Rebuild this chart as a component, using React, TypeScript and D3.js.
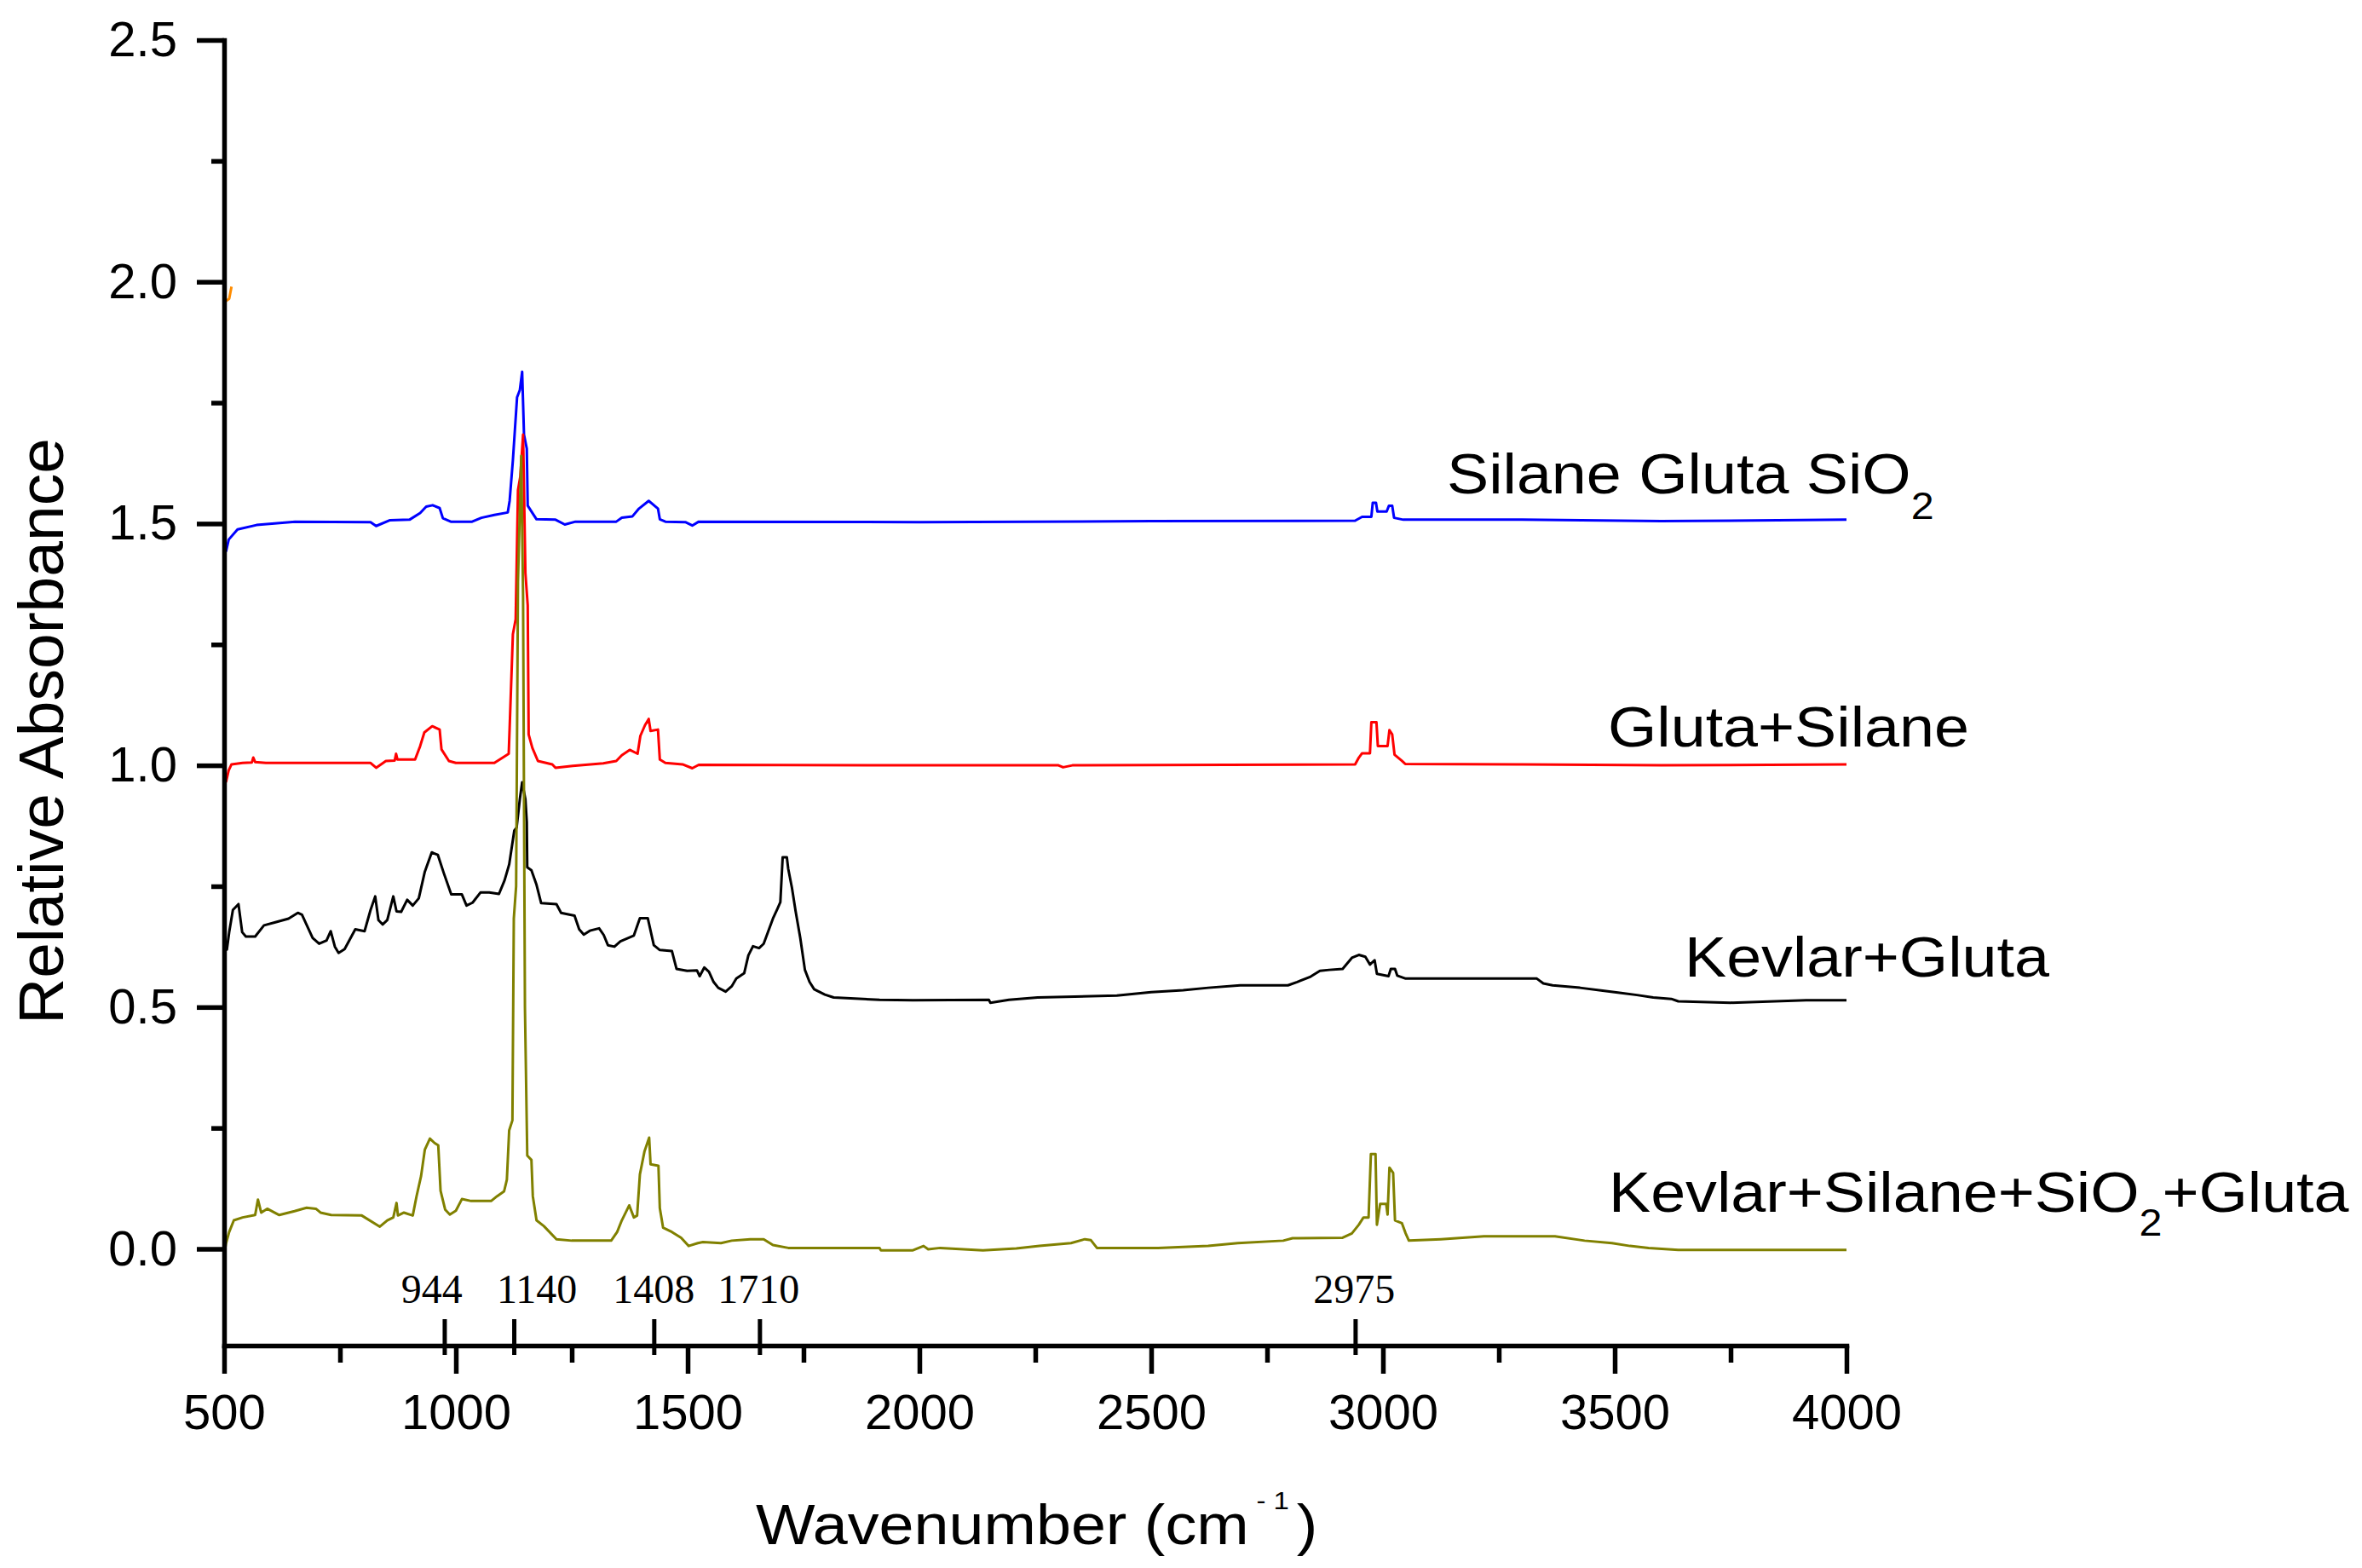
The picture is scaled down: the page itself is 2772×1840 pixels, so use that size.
import React, { useRef, useEffect } from 'react';
import * as d3 from 'd3';

type Pt = [number, number];

// spectra: [wavenumber cm-1, relative absorbance]
const silaneGlutaSiO2: Pt[] = [
  [504, 1.442], [510, 1.467], [529, 1.488], [570, 1.497], [653, 1.504], [816, 1.503], [828, 1.495],
  [858, 1.507], [900, 1.508], [923, 1.522], [936, 1.535], [950, 1.538], [965, 1.532], [972, 1.511],
  [989, 1.504], [1035, 1.504], [1055, 1.512], [1083, 1.518], [1112, 1.523], [1116, 1.547], [1123, 1.631],
  [1132, 1.761], [1138, 1.776], [1143, 1.814], [1147, 1.684], [1153, 1.655], [1155, 1.537], [1165, 1.522],
  [1174, 1.509], [1215, 1.508], [1235, 1.498], [1258, 1.504], [1346, 1.504], [1358, 1.512], [1381, 1.515],
  [1395, 1.531], [1416, 1.547], [1436, 1.531], [1440, 1.509], [1452, 1.504], [1495, 1.503], [1510, 1.496],
  [1524, 1.504], [2000, 1.503], [2500, 1.505], [2940, 1.506], [2955, 1.514], [2975, 1.514], [2978, 1.543],
  [2985, 1.543], [2988, 1.525], [3008, 1.525], [3013, 1.537], [3020, 1.537], [3024, 1.512], [3044, 1.508],
  [3300, 1.508], [3600, 1.505], [4000, 1.508],
];

const glutaSilane: Pt[] = [
  [504, 0.965], [510, 0.99], [516, 1.002], [540, 1.005], [560, 1.006], [563, 1.016], [567, 1.007],
  [590, 1.005], [816, 1.005], [828, 0.995], [849, 1.009], [868, 1.01], [871, 1.024], [874, 1.012],
  [912, 1.012], [923, 1.04], [932, 1.068], [949, 1.081], [965, 1.074], [969, 1.033], [985, 1.009],
  [1000, 1.005], [1083, 1.005], [1104, 1.018], [1114, 1.024], [1116, 1.077], [1123, 1.271], [1129, 1.302],
  [1134, 1.569], [1139, 1.597], [1145, 1.684], [1150, 1.398], [1155, 1.331], [1157, 1.064], [1165, 1.036],
  [1177, 1.009], [1208, 1.002], [1215, 0.995], [1252, 0.999], [1318, 1.004], [1346, 1.009], [1358, 1.021],
  [1375, 1.032], [1392, 1.024], [1398, 1.061], [1408, 1.083], [1416, 1.096], [1420, 1.071], [1436, 1.074],
  [1440, 1.012], [1452, 1.005], [1489, 1.002], [1510, 0.994], [1524, 1.001], [2000, 1.0], [2300, 1.0],
  [2310, 0.996], [2330, 1.0], [2940, 1.002], [2948, 1.016], [2955, 1.025], [2972, 1.025], [2975, 1.089],
  [2986, 1.089], [2989, 1.04], [3010, 1.04], [3014, 1.073], [3020, 1.064], [3025, 1.022], [3040, 1.01],
  [3048, 1.003], [3300, 1.002], [3600, 1.0], [4000, 1.002],
];

const kevlarGluta: Pt[] = [
  [503, 0.62], [506, 0.619], [511, 0.655], [519, 0.701], [531, 0.713], [539, 0.655], [547, 0.646],
  [567, 0.646], [586, 0.669], [609, 0.675], [639, 0.683], [659, 0.695], [668, 0.691], [691, 0.643],
  [705, 0.631], [721, 0.638], [730, 0.657], [739, 0.625], [747, 0.612], [760, 0.62], [783, 0.661],
  [803, 0.657], [816, 0.701], [826, 0.729], [833, 0.68], [842, 0.671], [852, 0.68], [865, 0.729],
  [872, 0.698], [882, 0.697], [895, 0.722], [907, 0.71], [920, 0.725], [933, 0.78], [948, 0.82],
  [961, 0.815], [974, 0.777], [990, 0.733], [1013, 0.733], [1023, 0.71], [1036, 0.716], [1053, 0.737],
  [1072, 0.737], [1093, 0.734], [1105, 0.762], [1115, 0.795], [1126, 0.865], [1131, 0.871], [1138, 0.93],
  [1143, 0.965], [1150, 0.93], [1153, 0.883], [1154, 0.789], [1163, 0.783], [1174, 0.753], [1184, 0.715],
  [1217, 0.713], [1227, 0.695], [1256, 0.689], [1266, 0.661], [1276, 0.65], [1289, 0.658], [1309, 0.663],
  [1319, 0.649], [1328, 0.628], [1342, 0.625], [1355, 0.636], [1384, 0.648], [1397, 0.684], [1414, 0.684],
  [1427, 0.628], [1440, 0.618], [1466, 0.616], [1476, 0.579], [1499, 0.575], [1520, 0.576], [1526, 0.564],
  [1536, 0.582], [1546, 0.573], [1556, 0.552], [1566, 0.54], [1582, 0.532], [1595, 0.543], [1605, 0.559],
  [1622, 0.57], [1631, 0.607], [1641, 0.626], [1654, 0.622], [1664, 0.631], [1674, 0.657], [1684, 0.683],
  [1694, 0.704], [1700, 0.717], [1705, 0.81], [1714, 0.81], [1717, 0.786], [1725, 0.747], [1733, 0.698],
  [1743, 0.643], [1753, 0.577], [1763, 0.552], [1773, 0.537], [1796, 0.526], [1815, 0.52], [1914, 0.515],
  [1986, 0.514], [2150, 0.515], [2153, 0.509], [2193, 0.515], [2255, 0.52], [2426, 0.524], [2500, 0.531],
  [2569, 0.535], [2623, 0.54], [2692, 0.545], [2795, 0.545], [2815, 0.552], [2844, 0.563], [2864, 0.575],
  [2884, 0.577], [2913, 0.579], [2933, 0.602], [2948, 0.608], [2962, 0.604], [2972, 0.588], [2982, 0.597],
  [2987, 0.569], [3012, 0.564], [3017, 0.579], [3026, 0.579], [3031, 0.565], [3049, 0.559], [3332, 0.559],
  [3346, 0.549], [3366, 0.545], [3425, 0.54], [3474, 0.534], [3514, 0.529], [3548, 0.525], [3583, 0.52],
  [3622, 0.517], [3637, 0.512], [3750, 0.509], [3913, 0.514], [4000, 0.514],
];

const kevlarSilaneSiO2Gluta: Pt[] = [
  [503, 0.005], [504, 0.011], [511, 0.035], [521, 0.059], [540, 0.065], [567, 0.07], [573, 0.102],
  [580, 0.075], [593, 0.083], [619, 0.07], [652, 0.078], [678, 0.085], [698, 0.083], [708, 0.075],
  [731, 0.07], [797, 0.069], [836, 0.046], [852, 0.059], [865, 0.065], [872, 0.095], [875, 0.069],
  [888, 0.075], [907, 0.069], [915, 0.108], [925, 0.151], [933, 0.205], [944, 0.228], [954, 0.219],
  [962, 0.214], [967, 0.12], [977, 0.081], [987, 0.071], [1000, 0.079], [1013, 0.103], [1033, 0.099],
  [1076, 0.099], [1089, 0.109], [1104, 0.119], [1110, 0.143], [1115, 0.245], [1122, 0.266], [1125, 0.683],
  [1130, 0.75], [1134, 1.38], [1141, 1.64], [1145, 1.35], [1149, 0.5], [1154, 0.193], [1163, 0.184],
  [1166, 0.109], [1174, 0.059], [1190, 0.047], [1217, 0.02], [1250, 0.017], [1335, 0.017], [1348, 0.035],
  [1358, 0.059], [1374, 0.09], [1384, 0.065], [1391, 0.069], [1397, 0.154], [1407, 0.202], [1417, 0.23],
  [1420, 0.175], [1437, 0.172], [1440, 0.084], [1447, 0.044], [1466, 0.035], [1486, 0.023], [1502, 0.006],
  [1522, 0.012], [1533, 0.014], [1572, 0.012], [1595, 0.017], [1635, 0.02], [1664, 0.02], [1684, 0.008],
  [1717, 0.002], [1914, 0.002], [1917, -0.003], [1986, -0.003], [2009, 0.006], [2019, -0.001], [2045, 0.002],
  [2137, -0.003], [2209, 0.001], [2259, 0.006], [2327, 0.012], [2357, 0.02], [2370, 0.018], [2383, 0.002],
  [2515, 0.002], [2623, 0.006], [2687, 0.012], [2785, 0.017], [2805, 0.022], [2913, 0.023], [2933, 0.032],
  [2948, 0.05], [2958, 0.065], [2969, 0.065], [2974, 0.196], [2984, 0.196], [2987, 0.05], [2994, 0.093],
  [3007, 0.093], [3010, 0.071], [3014, 0.168], [3022, 0.157], [3026, 0.059], [3041, 0.053], [3049, 0.032],
  [3056, 0.017], [3125, 0.02], [3218, 0.026], [3371, 0.026], [3435, 0.017], [3494, 0.012], [3533, 0.006],
  [3573, 0.002], [3637, -0.002], [4000, -0.002],
];

// small orange stub near the axis at ~2.0
const strayMark: Pt[] = [[504, 1.96], [511, 1.965], [516, 1.99]];

const xTicks = [500, 1000, 1500, 2000, 2500, 3000, 3500, 4000];
const xMinorTicks = [750, 1250, 1750, 2250, 2750, 3250, 3750];
const yTicks = [0, 0.5, 1, 1.5, 2, 2.5];
const yMinorTicks = [0.25, 0.75, 1.25, 1.75, 2.25];

const peakLabels = ['944', '1140', '1408', '1710', '2975'];
const peakMarks = [976, 1126, 1428, 1656, 2941];
const peakLabelAt = [948, 1175, 1427, 1653, 2938];

const W = 2772;
const H = 1840;
const SANS = '"Liberation Sans", Arial, sans-serif';
const SERIF = '"Liberation Serif", "Times New Roman", serif';

export default function App() {
  const axesRef = useRef<SVGGElement>(null);

  const x = d3.scaleLinear().domain([500, 4000]).range([263, 2167]);
  const y = d3.scaleLinear().domain([-0.2, 2.5]).range([1579, 47]);

  const line = d3.line<Pt>().x(d => x(d[0])).y(d => y(d[1]));

  const series = [
    { data: silaneGlutaSiO2, color: '#0000ff' },
    { data: glutaSilane, color: '#ff0000' },
    { data: kevlarGluta, color: '#000000' },
    { data: kevlarSilaneSiO2Gluta, color: '#808000' },
    { data: strayMark, color: '#ff8c00' },
  ];

  useEffect(() => {
    if (!axesRef.current) return;
    const g = d3.select(axesRef.current);
    g.selectAll('*').remove();

    const bottom = y(-0.2);
    const left = x(500);

    g.append('g')
      .attr('transform', `translate(0,${bottom})`)
      .call(d3.axisBottom(x).tickValues(xMinorTicks).tickSize(20).tickFormat(() => ''))
      .call(s => s.select('.domain').remove());

    g.append('g')
      .attr('transform', `translate(${left},0)`)
      .call(d3.axisLeft(y).tickValues(yMinorTicks).tickSize(15).tickFormat(() => ''))
      .call(s => s.select('.domain').remove());

    g.append('g')
      .attr('transform', `translate(0,${bottom})`)
      .call(d3.axisBottom(x).tickValues(xTicks).tickSize(33).tickSizeOuter(0).tickPadding(24).tickFormat(d3.format('d')));

    g.append('g')
      .attr('transform', `translate(${left},0)`)
      .call(d3.axisLeft(y).tickValues(yTicks).tickSize(32).tickSizeOuter(0).tickPadding(23).tickFormat(d3.format('.1f')));

    g.selectAll('.domain').attr('stroke', '#000').attr('stroke-width', 5.5).attr('stroke-linecap', 'square');
    g.selectAll('.tick line').attr('stroke', '#000').attr('stroke-width', 5.5);
    g.selectAll('.tick text')
      .attr('font-family', SANS)
      .attr('font-size', 58)
      .attr('fill', '#000');
  }, []);

  return (
    <svg width={W} height={H} style={{ position: 'absolute', left: 0, top: 0, background: '#fff' }}>
      <rect width={W} height={H} fill="#fff" />

      {series.map((s, i) => (
        <path key={i} d={line(s.data) ?? ''} fill="none" stroke={s.color} strokeWidth={3} strokeLinejoin="round" />
      ))}

      <g ref={axesRef} />

      {peakMarks.map((m, i) => (
        <line key={i} x1={x(m)} x2={x(m)} y1={1548} y2={1590} stroke="#000" strokeWidth={5} />
      ))}
      {peakLabels.map((t, i) => (
        <text key={t} x={x(peakLabelAt[i])} y={1529} textAnchor="middle" fontFamily={SERIF} fontSize={48} fill="#000">
          {t}
        </text>
      ))}

      <g fontFamily={SANS} fill="#000">
        <text transform="translate(1698,579) scale(1.1,1)" fontSize={67}>
          Silane Gluta SiO<tspan fontSize={44} dy={30}>2</tspan>
        </text>
        <text transform="translate(1887,876) scale(1.1,1)" fontSize={67}>Gluta+Silane</text>
        <text transform="translate(1977,1146) scale(1.1,1)" fontSize={67}>Kevlar+Gluta</text>
        <text transform="translate(1888,1422) scale(1.1,1)" fontSize={67}>
          Kevlar+Silane+SiO<tspan fontSize={44} dy={28}>2</tspan><tspan dy={-28}>+Gluta</tspan>
        </text>

        <text transform="translate(887,1812) scale(1.1,1)" fontSize={67}>
          Wavenumber (cm<tspan fontSize={30} dx={8} dy={-41}>- 1</tspan><tspan dx={8} dy={41}>)</tspan>
        </text>
        <text transform="translate(74,858) rotate(-90)" textAnchor="middle" fontSize={75}>
          Relative Absorbance
        </text>
      </g>
    </svg>
  );
}
